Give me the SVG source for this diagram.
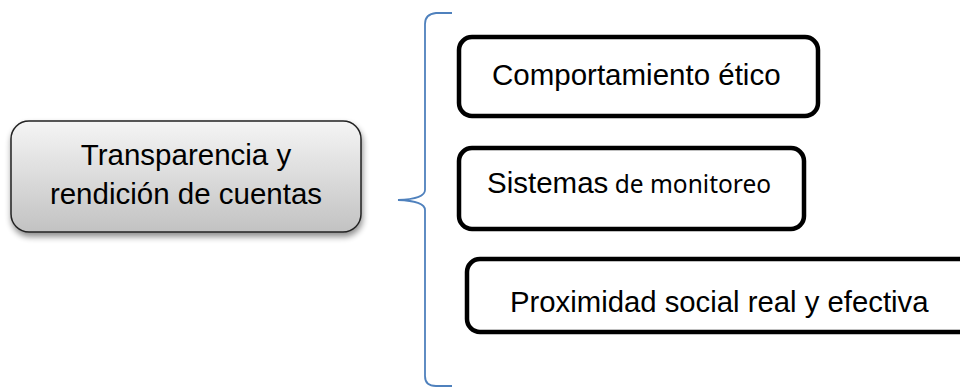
<svg xmlns="http://www.w3.org/2000/svg" width="960" height="388" viewBox="0 0 960 388">
<defs>
<linearGradient id="g" x1="0" y1="0" x2="0" y2="1">
<stop offset="0" stop-color="#f5f5f5"/>
<stop offset="1" stop-color="#c2c2c2"/>
</linearGradient>
<filter id="sh" x="-10%" y="-20%" width="120%" height="150%">
<feGaussianBlur in="SourceAlpha" stdDeviation="3"/>
<feOffset dx="1" dy="4" result="b"/>
<feComponentTransfer><feFuncA type="linear" slope="0.45"/></feComponentTransfer>
<feMerge><feMergeNode/><feMergeNode in="SourceGraphic"/></feMerge>
</filter>
</defs>
<style>
.t{font-family:"Liberation Sans",Arial,sans-serif;fill:#000}
.box{fill:#fff;stroke:#000;stroke-width:4.5}
.brace{fill:none;stroke:#4f81bd;stroke-width:1.8}
</style>
<g id="root">
<rect x="11" y="121" width="350" height="111" rx="18" fill="url(#g)" stroke="#222" stroke-width="1.5" filter="url(#sh)"/>
<text class="t" font-size="29.5" text-anchor="middle" x="186" y="165">Transparencia y</text>
<text class="t" font-size="29.5" text-anchor="middle" x="186" y="204">rendición de cuentas</text>
</g>
<g id="connectors">
<path class="brace" d="M452,13 L436,13 Q425,14 425,24 L425,190 Q425,199 398,200 Q425,201 425,210 L425,376 Q425,386 436,386 L452,386"/>
</g>
<g id="n1">
<rect class="box" x="459" y="37" width="359" height="79" rx="13"/>
<text class="t" font-size="29.5" x="492" y="85">Comportamiento ético</text>
</g>
<g id="n2">
<rect class="box" x="459" y="148" width="345" height="81" rx="13"/>
<text class="t" font-size="29.5" x="487" y="193">Sistemas<tspan font-family="'Noto Sans','Open Sans',sans-serif" font-size="24.5"> de monitoreo</tspan></text>
</g>
<g id="n3">
<rect class="box" x="467" y="259" width="520" height="73" rx="13"/>
<text class="t" font-size="29.3" x="510" y="312">Proximidad social real y efectiva</text>
</g>
</svg>
